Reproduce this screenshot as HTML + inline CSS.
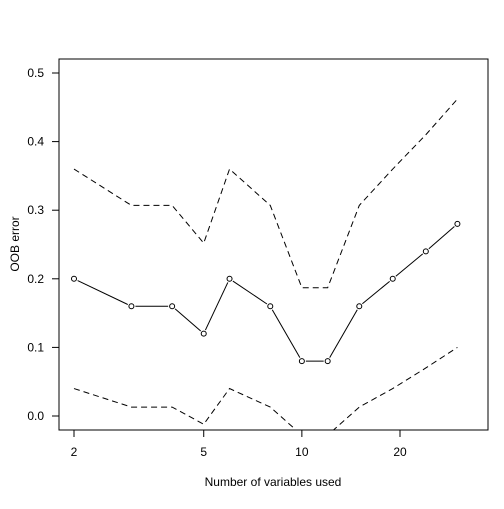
<!DOCTYPE html>
<html><head><meta charset="utf-8"><style>
body{margin:0;background:#fff}
text{font-family:"Liberation Sans",Arial,sans-serif;font-size:12px;fill:#000}
</style></head><body>
<svg id="chart" width="504" height="504" xmlns="http://www.w3.org/2000/svg">
<defs><clipPath id="clip"><rect x="59" y="59" width="429" height="371"/></clipPath></defs>
<rect x="59" y="59" width="429" height="371" fill="none" stroke="#000"/>
<g id="axes"></g>
<g id="series" clip-path="url(#clip)"></g>
<text x="273" y="486" text-anchor="middle">Number of variables used</text>
<text transform="translate(19,244) rotate(-90)" text-anchor="middle">OOB error</text>
</svg>
<script>
const nvars=[2,3,4,5,6,8,10,12,15,19,24,30];
const errMean=[0.2,0.16,0.16,0.12,0.2,0.16,0.08,0.08,0.16,0.2,0.24,0.28];
const errUpper=[0.36,0.307,0.307,0.252,0.36,0.307,0.187,0.187,0.307,0.36,0.41,0.462];
const errLower=[0.04,0.013,0.013,-0.012,0.04,0.013,-0.028,-0.028,0.013,0.04,0.07,0.1];
const xTicks=[2,5,10,20];
const yTicks=[0,0.1,0.2,0.3,0.4,0.5];
const yLabels=["0.0","0.1","0.2","0.3","0.4","0.5"];
const NS="http://www.w3.org/2000/svg";
const sx=v=>74+326*(Math.log10(v)-Math.log10(2));
const sy=v=>416-686*v;
function mk(tag,attrs,parent){const e=document.createElementNS(NS,tag);for(const k in attrs)e.setAttribute(k,attrs[k]);parent.appendChild(e);return e;}
const ax=document.getElementById('axes'),sr=document.getElementById('series');
xTicks.forEach(t=>{
 const l=mk('line',{x1:sx(t),x2:sx(t),y1:430,y2:437,stroke:'#000'},ax);
 
 
 const tx=mk('text',{x:sx(t),y:456,'text-anchor':'middle'},ax);tx.textContent=t;
 
 
});
yTicks.forEach((t,i)=>{
 const l=mk('line',{x1:52,x2:59,y1:sy(t),y2:sy(t),stroke:'#000'},ax);
 
 
 const tx=mk('text',{x:44,y:sy(t)+4,'text-anchor':'end'},ax);tx.textContent=yLabels[i];
 
 
});
function path(vals,dash,name){
 const p=mk('polyline',{points:nvars.map((n,i)=>sx(n)+','+sy(vals[i])).join(' '),fill:'none',stroke:'#000','stroke-width':1},sr);
 if(dash)p.setAttribute('stroke-dasharray','6,4');
 
 
}
path(errUpper,true,'upper-bound-line');
path(errLower,true,'lower-bound-line');
// mean line with gaps around points
nvars.forEach((n,i)=>{
 if(i<nvars.length-1){
  const x1=sx(n),y1=sy(errMean[i]),x2=sx(nvars[i+1]),y2=sy(errMean[i+1]);
  const d=Math.hypot(x2-x1,y2-y1),g=4/d;
  const l=mk('line',{x1:x1+(x2-x1)*g,y1:y1+(y2-y1)*g,x2:x2-(x2-x1)*g,y2:y2-(y2-y1)*g,stroke:'#000'},sr);
  
  
 }
 const c=mk('circle',{cx:sx(n),cy:sy(errMean[i]),r:2.5,fill:'none',stroke:'#000'},sr);
 
 
});
</script>
</body></html>
